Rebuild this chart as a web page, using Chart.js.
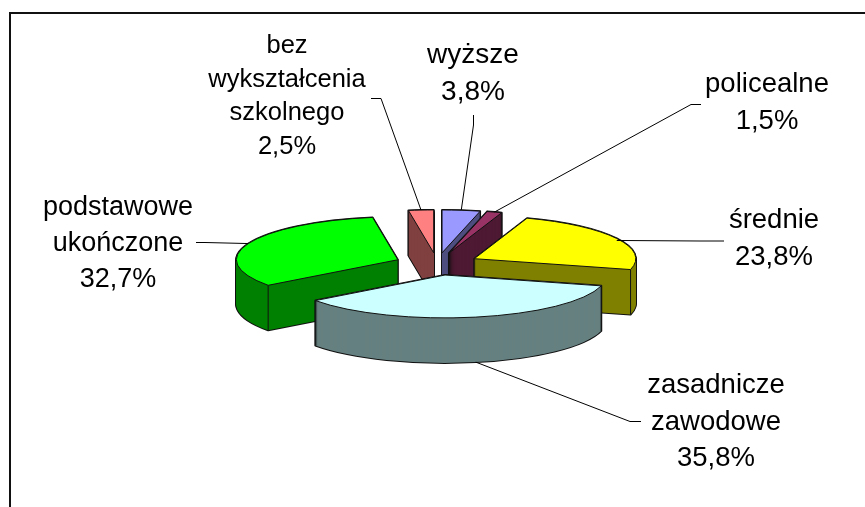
<!DOCTYPE html>
<html lang="pl">
<head>
<meta charset="utf-8">
<style>html,body{margin:0;padding:0;background:#fff}canvas{display:block}</style>
<script src="https://cdn.jsdelivr.net/npm/chart.js@4"></script>
</head>
<body>
<canvas id="c" width="865" height="507"></canvas>
<script>
const categories = ['wyższe', 'policealne', 'średnie', 'zasadnicze zawodowe', 'podstawowe ukończone', 'bez wykształcenia szkolnego'];
const labelLines = [['wyższe'], ['policealne'], ['średnie'], ['zasadnicze', 'zawodowe'], ['podstawowe', 'ukończone'], ['bez', 'wykształcenia', 'szkolnego']];
const values = [3.8, 1.5, 23.8, 35.8, 32.7, 2.5];
const topColors = ['#9999FF', '#993366', '#FFFF00', '#CCFFFF', '#00FF00', '#FF8080'];
const sideColors = ['#4D4D80', '#4D1933', '#808000', '#668080', '#008000', '#804040'];

const SQUASH = 43 / 162, DEPTH = 45, EXPLODE = 0.262, FONT = '"Liberation Sans", Arial, sans-serif';

// Label placement: x centre, first baseline, line spacing, font size; leader: elbow then end point
const labelPlace = [
  { x: 473, y: 63, lh: 37, size: 28, drop: 0, elbow: [473.5, 125], end: [473.5, 115] },
  { x: 767, y: 92, lh: 37, size: 27.5, drop: 0, elbow: [691, 104.5], end: [701, 104.5] },
  { x: 774, y: 228, lh: 37, size: 27.5, drop: 2, elbow: [700, 241], end: [724, 241] },
  { x: 716, y: 393, lh: 36.5, size: 27.5, drop: 0, elbow: [630, 421.5], end: [641, 421.5] },
  { x: 118, y: 215, lh: 36, size: 27, drop: 0, elbow: [205, 242.5], end: [196, 242.5] },
  { x: 287, y: 53, lh: 33.7, size: 25.5, drop: 0, elbow: [381, 98.5], end: [371, 98.5] }
];

function faceOpts(fill, stroke, width) {
  return { backgroundColor: fill, borderColor: stroke, borderWidth: width, borderAlign: 'center',
    offset: 0, spacing: 0, circular: true, borderRadius: 0, borderDash: [], borderDashOffset: 0, borderJoinStyle: 'round' };
}
function midAngle(a) { return (a.startAngle + a.endAngle) / 2; }

function placeSlice(ctx, a, drop) {
  const m = midAngle(a), R = a.outerRadius;
  ctx.translate(a.x, a.y + drop);
  ctx.scale(1, SQUASH);
  ctx.translate(-a.x, -a.y);
  ctx.translate(Math.cos(m) * EXPLODE * R, Math.sin(m) * EXPLODE * R);
}
function drawFace(ctx, a, drop, opts) {
  const saved = a.options;
  a.options = opts;
  ctx.save();
  placeSlice(ctx, a, drop);
  a.draw(ctx);
  ctx.restore();
  a.options = saved;
}
function screenPoint(a, angle, radius, drop) {
  const m = midAngle(a), R = a.outerRadius;
  return [a.x + Math.cos(m) * EXPLODE * R + Math.cos(angle) * radius,
          a.y + drop + (Math.sin(m) * EXPLODE * R + Math.sin(angle) * radius) * SQUASH];
}

const pie3d = {
  id: 'pie3d',
  beforeDraw(chart) {
    const ctx = chart.ctx;
    ctx.save();
    ctx.strokeStyle = '#111';
    ctx.lineWidth = 2;
    ctx.beginPath();
    ctx.moveTo(10, 507);
    ctx.lineTo(10, 13);
    ctx.lineTo(865, 13);
    ctx.stroke();
    ctx.restore();
  },
  beforeDatasetsDraw(chart) {
    const ctx = chart.ctx;
    const arcs = chart.getDatasetMeta(0).data.map((a, i) => ({ a, i }));
    arcs.sort((p, q) => Math.sin(midAngle(p.a)) - Math.sin(midAngle(q.a)));
    const nativeStroke = ctx.stroke;
    // Keep outline width uniform although the arc path is built in the squashed space
    ctx.stroke = function () {
      this.save();
      this.setTransform(1, 0, 0, 1, 0, 0);
      nativeStroke.call(this);
      this.restore();
    };
    arcs.forEach(({ a, i }) => {
      for (let d = DEPTH; d >= 0; d--) drawFace(ctx, a, d, faceOpts(sideColors[i], '#111', 2));
      for (let d = DEPTH; d >= 0; d--) drawFace(ctx, a, d, faceOpts(sideColors[i], sideColors[i], 0));
      ctx.save();
      ctx.strokeStyle = '#111';
      ctx.lineWidth = 1;
      [[a.startAngle, true], [a.endAngle, false]].forEach(([ang, isStart]) => {
        const visible = Math.sin(ang) > 0 && (isStart ? Math.cos(ang) < 0 : Math.cos(ang) > 0);
        if (!visible) return;
        const p = screenPoint(a, ang, a.outerRadius, 0);
        ctx.beginPath();
        ctx.moveTo(p[0], p[1]);
        ctx.lineTo(p[0], p[1] + DEPTH);
        ctx.stroke();
      });
      ctx.restore();
      drawFace(ctx, a, 0, faceOpts(topColors[i], '#111', 1));
    });
    delete ctx.stroke;
    return false;
  },
  afterDraw(chart) {
    const ctx = chart.ctx;
    const arcs = chart.getDatasetMeta(0).data;
    ctx.save();
    ctx.fillStyle = '#000';
    ctx.textAlign = 'center';
    ctx.textBaseline = 'alphabetic';
    ctx.strokeStyle = '#000';
    ctx.lineWidth = 1;
    arcs.forEach((a, i) => {
      const pl = labelPlace[i], m = midAngle(a);
      const front = Math.sin(m) > 0.9 ? DEPTH : pl.drop;
      const start = screenPoint(a, m, a.outerRadius, front);
      ctx.beginPath();
      ctx.moveTo(start[0], start[1]);
      ctx.lineTo(pl.elbow[0], pl.elbow[1]);
      ctx.lineTo(pl.end[0], pl.end[1]);
      ctx.stroke();
      ctx.font = pl.size + 'px ' + FONT;
      const lines = labelLines[i].concat(values[i].toFixed(1).replace('.', ',') + '%');
      lines.forEach((t, k) => ctx.fillText(t, pl.x, pl.y + k * pl.lh));
    });
    ctx.restore();
  }
};

new Chart(document.getElementById('c'), {
  type: 'pie',
  data: {
    labels: categories,
    datasets: [{ data: values, backgroundColor: topColors, borderColor: '#111', borderWidth: 1 }]
  },
  options: {
    responsive: false,
    animation: false,
    layout: { padding: { left: 275, right: 266, top: 102, bottom: 81 } },
    plugins: { legend: { display: false }, tooltip: { enabled: false } }
  },
  plugins: [pie3d]
});
</script>
</body>
</html>
